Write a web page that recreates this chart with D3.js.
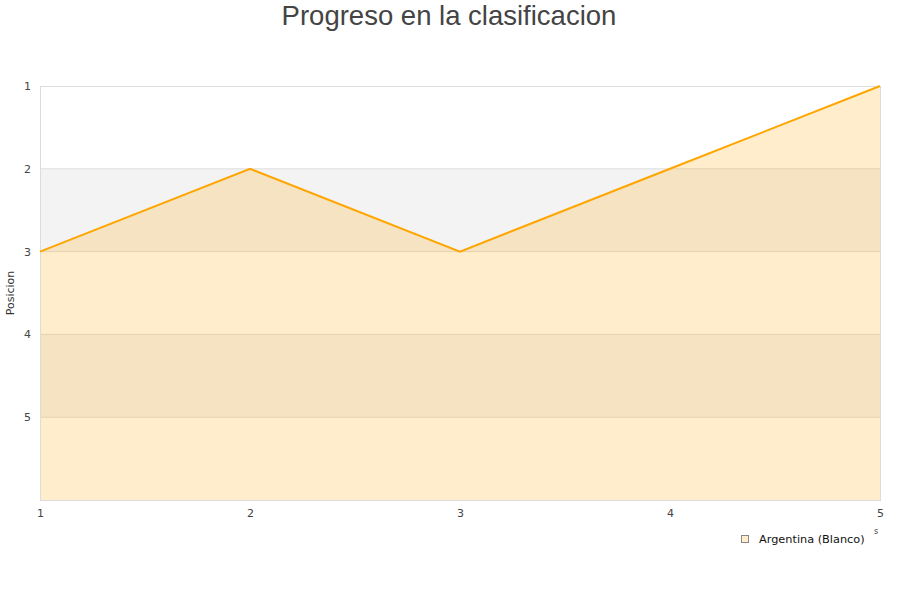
<!DOCTYPE html>
<html>
<head>
<meta charset="utf-8">
<script src="https://cdn.jsdelivr.net/npm/d3@7"></script>
<style>
  body { margin: 0; background: #fff; }
  svg { display: block; }
</style>
</head>
<body>
<svg id="chart" width="900" height="600"></svg>
<script>
// Data
const jornadas = [1, 2, 3, 4, 5];
const posiciones = [3, 2, 3, 2, 1];
const yTicks = [1, 2, 3, 4, 5];
const seriesName = "Argentina (Blanco)";
const chartTitle = "Progreso en la clasificacion";
const yTitle = "Posicion";

const svg = d3.select("#chart");
const margin = { left: 40, right: 20, top: 86, bottom: 100 };
const width = 900, height = 600;

const xScale = d3.scaleLinear()
    .domain([1, 5])
    .range([margin.left, width - margin.right]);
const yScale = d3.scaleLinear()
    .domain([1, 6])
    .range([margin.top, height - margin.bottom]);

// Alternating bands
const bands = d3.range(1, 6);
svg.append("g").selectAll("rect").data(bands).enter().append("rect")
    .attr("x", xScale(1))
    .attr("width", xScale(5) - xScale(1))
    .attr("y", d => yScale(d))
    .attr("height", d => yScale(d + 1) - yScale(d))
    .attr("fill", d => d % 2 === 0 ? "#f3f3f3" : "#ffffff");

// Grid lines
svg.append("g").selectAll("line").data(yTicks.slice(1)).enter().append("line")
    .attr("x1", xScale(1)).attr("x2", xScale(5))
    .attr("y1", d => yScale(d)).attr("y2", d => yScale(d))
    .attr("stroke", "#dddddd").attr("stroke-width", 1);

const pts = jornadas.map((j, i) => [j, posiciones[i]]);

// Area
const area = d3.area()
    .x(d => xScale(d[0]))
    .y0(yScale(6))
    .y1(d => yScale(d[1]));
svg.append("path")
    .datum(pts)
    .attr("d", area)
    .attr("fill", "rgba(255,165,0,0.2)");

// Plot border
svg.append("rect")
    .attr("x", xScale(1) + 0.5).attr("y", yScale(1) + 0.5)
    .attr("width", xScale(5) - xScale(1)).attr("height", yScale(6) - yScale(1))
    .attr("fill", "none").attr("stroke", "#dcdcdc");

// Line
const line = d3.line()
    .x(d => xScale(d[0]))
    .y(d => yScale(d[1]));
svg.append("path")
    .datum(pts)
    .attr("d", line)
    .attr("fill", "none")
    .attr("stroke", "#ffa500")
    .attr("stroke-width", 2);

// Axes
const xAxis = d3.axisBottom(xScale).tickValues(jornadas).tickSize(0).tickPadding(9).tickFormat(d3.format("d"));
svg.append("g")
    .attr("transform", `translate(0,${yScale(6)})`)
    .call(xAxis)
    .call(g => g.select(".domain").remove())
    .selectAll("text")
    .attr("font-family", "DejaVu Sans").attr("font-size", 11).attr("fill", "#444");

const yAxis = d3.axisLeft(yScale).tickValues(yTicks).tickSize(0).tickPadding(9).tickFormat(d3.format("d"));
svg.append("g")
    .attr("transform", `translate(${xScale(1)},0)`)
    .call(yAxis)
    .call(g => g.select(".domain").remove())
    .selectAll("text")
    .attr("font-family", "DejaVu Sans").attr("font-size", 11).attr("fill", "#444");

// Titles
svg.append("text")
    .attr("x", width / 2 - 1).attr("y", 25)
    .attr("text-anchor", "middle")
    .attr("font-family", "Liberation Sans, Arial, sans-serif")
    .attr("font-size", 27.5)
    .attr("fill", "#444")
    .text(chartTitle);

svg.append("text")
    .attr("transform", `translate(14,${(yScale(1) + yScale(6)) / 2}) rotate(-90)`)
    .attr("text-anchor", "middle")
    .attr("font-family", "DejaVu Sans")
    .attr("font-size", 11)
    .attr("fill", "#333")
    .text(yTitle);

svg.append("text")
    .attr("x", 876).attr("y", 534)
    .attr("text-anchor", "middle")
    .attr("font-family", "DejaVu Sans")
    .attr("font-size", 8)
    .attr("fill", "#444")
    .text("s");

// Legend
const legend = svg.append("g").attr("transform", "translate(741,535)");
legend.append("rect")
    .attr("x", 0.5).attr("y", 0.5).attr("width", 7).attr("height", 7)
    .attr("fill", "#ffedcc").attr("stroke", "#888");
legend.append("text")
    .attr("x", 18).attr("y", 8)
    .attr("font-family", "DejaVu Sans")
    .attr("font-size", 11.3)
    .attr("fill", "#111")
    .text(seriesName);
</script>
</body>
</html>
